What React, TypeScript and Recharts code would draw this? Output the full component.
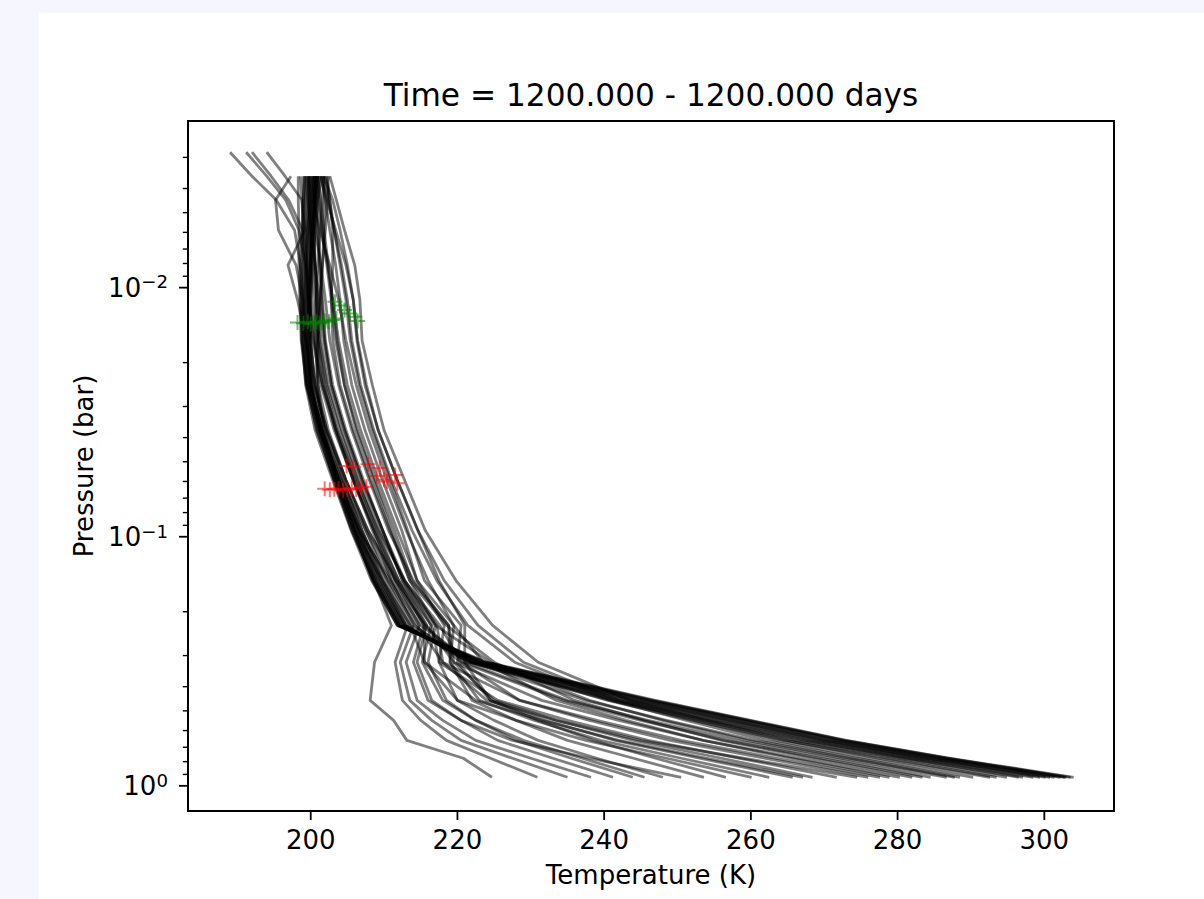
import React from 'react';
import { ScatterChart, Scatter, XAxis, YAxis, ReferenceArea } from 'recharts';

// model pressure levels (bar), top of atmosphere first
const PRESSURE_LEVELS = [
  0.00286, 0.00357, 0.00445, 0.00588, 0.00812, 0.0112, 0.0163, 0.0246, 0.0374, 0.0593,
  0.0942, 0.150, 0.227, 0.319, 0.454, 0.546, 0.657, 0.775, 0.924,
];

// temperature (K) of each column at the levels above; null = level not drawn
const PROFILE_TEMPS: (number | null)[][] = [
  [null, 199.5, 199.3, 199.2, 199.0, 198.9, 198.9, 199.3, 200.6, 203.0, 205.5, 208.3, 211.8, 224.0, 247.0, 260.0, 273.0, 287.0, 304.0],
  [null, 200.3, 200.0, 199.6, 199.4, 199.2, 199.2, 199.6, 201.0, 203.3, 205.8, 208.5, 211.9, 223.6, 246.3, 259.4, 272.5, 286.5, 303.6],
  [null, 199.0, 199.0, 198.9, 198.8, 198.7, 198.8, 199.4, 200.9, 203.2, 205.6, 208.6, 212.2, 223.2, 245.5, 258.5, 271.5, 285.5, 302.2],
  [null, 200.8, 200.5, 200.2, 199.9, 199.7, 199.6, 199.9, 201.2, 203.6, 206.0, 208.8, 212.0, 222.8, 244.8, 257.6, 270.6, 284.6, 301.4],
  [null, 201.2, 200.8, 200.4, 200.1, 199.8, 199.8, 200.2, 201.5, 203.8, 206.3, 209.0, 212.3, 222.5, 244.0, 256.8, 269.8, 283.8, 300.2],
  [null, 199.8, 199.6, 199.5, 199.3, 199.2, 199.3, 199.8, 201.3, 203.7, 206.4, 209.2, 212.6, 222.2, 243.2, 256.0, 269.0, 283.0, 299.4],
  [null, 200.5, 200.2, 199.9, 199.7, 199.5, 199.5, 200.0, 201.6, 204.0, 206.6, 209.5, 212.8, 221.8, 242.0, 254.6, 267.6, 281.5, 297.1],
  [null, 201.5, 201.0, 200.6, 200.3, 200.0, 200.0, 200.5, 202.0, 204.4, 207.0, 209.8, 213.0, 221.5, 240.8, 253.2, 266.0, 280.0, 294.9],
  [null, 201.8, 201.9, 201.8, 201.6, 201.3, 201.0, 201.0, 201.8, 203.6, 205.9, 208.4, 211.8, 223.8, 246.6, 259.7, 272.8, 286.8, 303.0],
  [null, 200.9, 200.6, 200.3, 200.0, 199.9, 199.9, 200.1, 201.3, 203.5, 206.0, 208.7, 212.1, 223.4, 246.0, 259.0, 272.0, 286.0, 302.8],
  [null, 202.4, 202.3, 202.0, 201.6, 201.2, 200.9, 200.8, 201.6, 203.6, 206.1, 208.9, 212.4, 222.9, 244.4, 257.2, 270.2, 284.2, 300.8],
  [null, 200.7, 200.3, 200.0, 199.8, 199.6, 199.7, 200.1, 201.5, 203.9, 206.5, 209.3, 212.7, 222.0, 242.6, 255.3, 268.3, 282.2, 298.5],
  [null, 198.3, 198.3, 198.4, 198.4, 198.5, 198.7, 199.4, 201.2, 203.9, 206.7, 209.6, 212.9, 221.6, 241.4, 253.9, 266.8, 280.8, 296.5],
  [null, 201.8, 201.6, 201.3, 201.0, 200.7, 200.6, 201.0, 202.4, 204.8, 207.5, 210.4, 213.6, 222.8, 240.5, 252.0, 264.5, 278.5, 293.5],
  [null, 202.6, 203.5, 204.6, 206.0, 206.7, 207.0, 208.4, 210.0, 212.8, 215.6, 219.8, 224.8, 231.0, 243.5, 254.0, 265.0, 277.5, 292.6],
  [null, 201.8, 203.0, 204.0, 205.0, 205.8, 206.4, 207.6, 209.2, 211.8, 214.6, 218.2, 222.8, 229.0, 242.0, 252.5, 263.5, 276.0, 290.3],
  [null, 202.2, 202.6, 203.2, 204.2, 205.0, 205.6, 206.8, 208.6, 211.0, 213.8, 217.2, 221.4, 227.8, 241.0, 251.2, 262.0, 274.5, 288.5],
  [null, 199.2, 199.0, 198.8, 198.6, 198.6, 198.8, 199.6, 201.5, 204.2, 207.5, 211.0, 215.0, 222.0, 237.5, 248.5, 260.5, 273.5, 287.8],
  [null, 200.6, 200.8, 201.0, 201.3, 201.6, 202.0, 203.0, 204.8, 207.2, 209.8, 212.5, 217.0, 224.5, 238.0, 248.0, 259.5, 272.5, 286.7],
  [189.0, 192.0, 195.3, 197.8, 198.6, 199.0, 199.3, 200.0, 201.6, 203.9, 206.8, 210.5, 214.2, 220.5, 234.5, 245.0, 256.5, 269.5, 283.4],
  [null, 201.0, 201.4, 201.8, 202.4, 203.0, 203.6, 204.6, 206.2, 208.6, 211.0, 213.5, 218.5, 225.0, 236.0, 245.5, 256.0, 268.5, 282.0],
  [191.2, 194.0, 196.6, 198.4, 199.3, 199.6, 199.9, 200.6, 202.2, 204.8, 207.8, 211.8, 215.8, 219.5, 231.5, 242.0, 253.5, 266.5, 280.3],
  [null, 201.4, 202.0, 202.6, 203.4, 204.0, 204.5, 205.6, 207.4, 209.8, 212.4, 214.5, 219.5, 223.5, 233.5, 243.0, 253.5, 265.5, 278.9],
  [null, 197.3, 195.2, 195.6, 198.0, 198.9, 199.2, 199.8, 201.3, 203.6, 206.5, 210.8, 214.5, 218.0, 228.5, 239.0, 250.5, 263.5, 277.6],
  [null, 200.3, 200.6, 200.9, 201.2, 201.5, 201.9, 202.8, 204.6, 207.0, 209.8, 212.8, 217.6, 220.5, 228.5, 238.0, 249.0, 262.0, 276.0],
  [null, 200.2, 200.0, 200.0, 200.2, 200.6, 201.0, 202.0, 203.6, 206.0, 208.8, 212.0, 216.5, 217.5, 225.5, 235.0, 246.0, 258.5, 271.7],
  [null, 200.9, 201.2, 201.6, 202.2, 202.8, 203.4, 204.6, 206.4, 208.8, 211.4, 213.8, 218.8, 219.5, 225.0, 233.5, 244.0, 256.0, 268.4],
  [192.0, 194.6, 197.0, 198.9, 199.1, 199.0, 199.0, 199.5, 200.8, 203.2, 206.0, 209.8, 213.6, 215.5, 222.5, 231.5, 242.0, 254.0, 267.1],
  [null, 201.6, 202.4, 203.2, 204.0, 204.8, 205.4, 206.6, 208.4, 210.8, 213.2, 215.5, 220.5, 220.0, 224.5, 232.0, 241.5, 253.0, 265.7],
  [null, 199.7, 200.1, 200.6, 201.4, 202.0, 202.6, 203.8, 205.6, 208.0, 210.6, 214.0, 218.8, 219.0, 223.0, 230.5, 239.5, 250.5, 262.5],
  [194.0, 196.5, 198.8, 199.2, 196.9, 198.2, 199.4, 200.4, 202.2, 204.8, 207.8, 211.5, 215.5, 215.5, 220.0, 228.0, 237.5, 248.5, 260.1],
  [null, 199.6, 199.8, 200.2, 200.6, 201.0, 201.4, 202.4, 204.2, 206.6, 209.4, 212.8, 217.2, 218.0, 224.0, 233.5, 245.0, 259.0, 274.5],
  [null, 200.4, 200.4, 200.4, 200.6, 200.8, 201.0, 201.8, 203.4, 205.8, 208.6, 211.6, 215.6, 221.0, 235.0, 246.0, 258.0, 271.0, 284.5],
  [null, 200.0, 199.8, 199.6, 199.5, 199.4, 199.5, 200.0, 201.2, 203.2, 205.6, 208.6, 211.0, 208.7, 208.1, 211.3, 213.1, 220.8, 224.7],
  [null, 201.0, 200.6, 200.2, 200.0, 199.9, 200.0, 200.6, 202.0, 204.4, 207.0, 210.0, 213.2, 211.5, 212.5, 215.0, 218.5, 224.5, 230.9],
  [null, 199.8, 199.7, 199.8, 200.0, 200.2, 200.6, 201.6, 203.4, 205.8, 208.4, 211.0, 214.0, 212.2, 213.5, 216.5, 220.5, 227.5, 235.0],
  [null, 198.6, 198.8, 199.0, 199.4, 199.8, 200.3, 201.4, 203.2, 205.8, 208.6, 211.5, 214.8, 213.0, 214.5, 218.0, 222.5, 230.0, 238.2],
  [null, 199.4, 199.6, 200.0, 200.6, 201.2, 201.8, 202.8, 204.6, 207.0, 209.8, 212.5, 215.8, 214.5, 216.5, 220.5, 225.5, 233.0, 241.2],
  [null, 202.0, 202.6, 203.0, 203.0, 202.8, 203.0, 204.0, 205.8, 208.2, 210.8, 213.5, 217.0, 216.0, 218.5, 222.5, 228.0, 235.5, 243.9],
  [null, 199.2, 199.2, 199.3, 199.5, 199.8, 200.4, 201.6, 203.6, 206.2, 209.2, 212.8, 216.4, 215.2, 218.0, 222.5, 229.0, 237.0, 245.5],
  [null, 200.7, 201.0, 201.5, 202.3, 203.0, 203.8, 205.0, 206.8, 209.2, 211.8, 214.5, 218.2, 217.5, 220.0, 225.0, 231.0, 239.0, 248.0],
  [null, 200.6, 200.5, 200.5, 200.6, 200.8, 201.2, 202.2, 204.0, 206.4, 209.0, 212.0, 215.4, 214.0, 216.0, 220.5, 227.5, 238.0, 250.5],
  [null, 199.9, 200.4, 201.2, 202.6, 203.8, 204.8, 206.2, 208.0, 210.4, 213.0, 216.0, 219.5, 219.0, 222.0, 228.0, 235.0, 244.0, 253.6],
  [null, 201.3, 202.2, 203.4, 204.8, 205.8, 206.3, 207.4, 209.2, 211.8, 214.6, 217.5, 221.0, 221.0, 224.5, 231.0, 238.5, 247.0, 256.6],
];

// green markers (upper level)
const GREEN_T = [198.2, 199.0, 199.6, 200.0, 200.4, 200.8, 201.2, 201.6, 202.0, 202.5, 203.0, 203.5, 203.3, 204.0, 204.6, 205.3, 206.0, 206.4];
const GREEN_P = [0.0138, 0.0139, 0.0137, 0.0140, 0.0138, 0.0137, 0.0139, 0.0138, 0.0136, 0.0137, 0.0135, 0.0133, 0.0114, 0.0118, 0.0123, 0.0127, 0.0131, 0.0136];

// red markers (lower level)
const RED_T = [201.9, 202.6, 203.2, 203.8, 204.4, 205.0, 205.6, 206.2, 206.9, 207.6, 204.9, 205.8, 207.8, 209.4, 209.0, 210.4, 211.5, 211.8, 210.0];
const RED_P = [0.0642, 0.0648, 0.0645, 0.0640, 0.0650, 0.0644, 0.0638, 0.0646, 0.0635, 0.0630, 0.0520, 0.0525, 0.0512, 0.0530, 0.0570, 0.0600, 0.0565, 0.0610, 0.0590];

const X_TICKS = [200, 220, 240, 260, 280, 300];
const Y_MAJOR_TICKS = [0.01, 0.1, 1];
const Y_MINOR_TICKS = [
  0.003, 0.004, 0.005, 0.006, 0.007, 0.008, 0.009,
  0.02, 0.03, 0.04, 0.05, 0.06, 0.07, 0.08, 0.09,
  0.2, 0.3, 0.4, 0.5, 0.6, 0.7, 0.8, 0.9,
];
const X_DOMAIN = [183.27, 309.5];
const Y_DOMAIN = [0.002143, 1.262];

const TITLE = 'Time = 1200.000 - 1200.000 days';
const FONT = 'DejaVu Sans';

const profiles = PROFILE_TEMPS.map((temps) =>
  temps
    .map((t, i) => (t == null ? null : { t, p: PRESSURE_LEVELS[i] }))
    .filter((d): d is { t: number; p: number } => d !== null),
);
const greenPts = GREEN_T.map((t, i) => ({ t, p: GREEN_P[i] }));
const redPts = RED_T.map((t, i) => ({ t, p: RED_P[i] }));

const NoDot = () => null;

function Plus(props: any) {
  const { cx, cy, color } = props;
  if (cx == null || cy == null) return null;
  return (
    <path
      d={`M${cx - 7.5},${cy}H${cx + 7.5}M${cx},${cy - 7.5}V${cy + 7.5}`}
      stroke={color}
      strokeOpacity={0.55}
      strokeWidth={2}
      fill="none"
    />
  );
}

function XTick({ x, y, payload }: any) {
  return (
    <g>
      <line x1={x} x2={x} y1={y} y2={y + 9} stroke="#000" strokeWidth={1.8} />
      <text x={x} y={y + 38} textAnchor="middle" fontFamily={FONT} fontSize={26} fill="#000">
        {payload.value}
      </text>
    </g>
  );
}

function YTick({ x, y, payload }: any) {
  const v = payload.value;
  if (!Y_MAJOR_TICKS.includes(v)) {
    return <line x1={x - 5.2} x2={x} y1={y} y2={y} stroke="#000" strokeWidth={1.4} />;
  }
  const exp = Math.round(Math.log10(v));
  const expText = exp < 0 ? '\u2212' + -exp : String(exp);
  return (
    <g>
      <line x1={x - 9} x2={x} y1={y} y2={y} stroke="#000" strokeWidth={1.8} />
      <text x={x - 20} y={y + 9.2} textAnchor="end" fontFamily={FONT} fontSize={26} fill="#000">
        <tspan>10</tspan>
        <tspan dy={-8.4} fontSize={18.2}>{expText}</tspan>
      </text>
    </g>
  );
}

export default function App() {
  return (
    <div style={{ position: 'fixed', left: 0, top: 0, width: 1204, height: 899, background: '#f5f6fe', overflow: 'hidden' }}>
      <div style={{ position: 'absolute', left: 39, top: 13, width: 1165, height: 886, background: '#fff' }} />
      <div style={{ position: 'absolute', left: 0, top: 0 }}>
        <ScatterChart width={1204} height={899} margin={{ top: 121, right: 90, bottom: 58, left: 128 }}>
          <XAxis
            type="number"
            dataKey="t"
            domain={X_DOMAIN}
            allowDataOverflow
            ticks={X_TICKS}
            interval={0}
            tick={<XTick />}
            tickLine={false}
            axisLine={false}
            tickSize={0}
            tickMargin={0}
            height={30}
          />
          <YAxis
            type="number"
            dataKey="p"
            scale="log"
            domain={Y_DOMAIN}
            allowDataOverflow
            reversed
            ticks={[...Y_MINOR_TICKS, ...Y_MAJOR_TICKS].sort((a, b) => a - b)}
            interval={0}
            tick={<YTick />}
            tickLine={false}
            axisLine={false}
            tickSize={0}
            tickMargin={0}
            width={60}
          />
          {profiles.map((pts, i) => (
            <Scatter
              key={'prof' + i}
              data={pts}
              fill="#000"
              line={{ stroke: '#000', strokeOpacity: 0.5, strokeWidth: 2.8, strokeLinejoin: 'round' }}
              shape={<NoDot />}
              isAnimationActive={false}
            />
          ))}
          <Scatter data={greenPts} fill="#008000" shape={<Plus color="#008000" />} isAnimationActive={false} />
          <Scatter data={redPts} fill="#ff0000" shape={<Plus color="#ff0000" />} isAnimationActive={false} />
          <ReferenceArea
            x1={X_DOMAIN[0]}
            x2={X_DOMAIN[1]}
            y1={Y_DOMAIN[0]}
            y2={Y_DOMAIN[1]}
            fill="none"
            stroke="#000"
            strokeWidth={2}
            ifOverflow="visible"
          />
          <text x={651} y={106} textAnchor="middle" fontFamily={FONT} fontSize={31.2} fill="#000">
            {TITLE}
          </text>
          <text x={651} y={884} textAnchor="middle" fontFamily={FONT} fontSize={26} fill="#000">
            Temperature (K)
          </text>
          <text
            x={93}
            y={466}
            transform="rotate(-90 93 466)"
            textAnchor="middle"
            fontFamily={FONT}
            fontSize={26}
            fill="#000"
          >
            Pressure (bar)
          </text>
        </ScatterChart>
      </div>
    </div>
  );
}
